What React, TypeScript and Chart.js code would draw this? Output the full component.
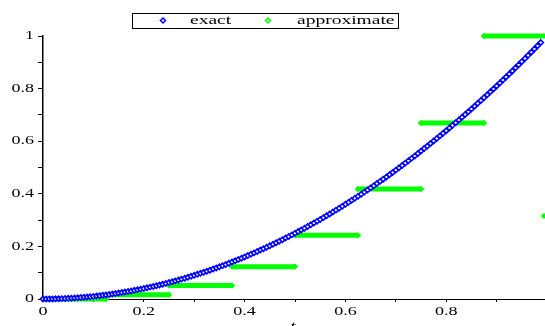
import React, { useEffect, useRef } from "react";
import { Chart, registerables } from "chart.js";

Chart.register(...registerables);

// ---- data ----
const seriesNames = ["exact", "approximate"];

const exactT = [
  0, 0.0063, 0.0125, 0.0188, 0.025, 0.0313, 0.0375, 0.0438, 0.05, 0.0563, 0.0625, 0.0688, 0.075, 0.0813, 0.0875, 0.0938,
  0.1, 0.1063, 0.1125, 0.1188, 0.125, 0.1313, 0.1375, 0.1438, 0.15, 0.1563, 0.1625, 0.1688, 0.175, 0.1813, 0.1875, 0.1938,
  0.2, 0.2063, 0.2125, 0.2188, 0.225, 0.2313, 0.2375, 0.2438, 0.25, 0.2563, 0.2625, 0.2688, 0.275, 0.2813, 0.2875, 0.2938,
  0.3, 0.3063, 0.3125, 0.3188, 0.325, 0.3313, 0.3375, 0.3438, 0.35, 0.3563, 0.3625, 0.3688, 0.375, 0.3813, 0.3875, 0.3938,
  0.4, 0.4063, 0.4125, 0.4188, 0.425, 0.4313, 0.4375, 0.4438, 0.45, 0.4563, 0.4625, 0.4688, 0.475, 0.4813, 0.4875, 0.4938,
  0.5, 0.5063, 0.5125, 0.5188, 0.525, 0.5313, 0.5375, 0.5438, 0.55, 0.5563, 0.5625, 0.5688, 0.575, 0.5813, 0.5875, 0.5938,
  0.6, 0.6063, 0.6125, 0.6188, 0.625, 0.6313, 0.6375, 0.6438, 0.65, 0.6563, 0.6625, 0.6688, 0.675, 0.6813, 0.6875, 0.6938,
  0.7, 0.7063, 0.7125, 0.7188, 0.725, 0.7313, 0.7375, 0.7438, 0.75, 0.7563, 0.7625, 0.7688, 0.775, 0.7813, 0.7875, 0.7938,
  0.8, 0.8063, 0.8125, 0.8188, 0.825, 0.8313, 0.8375, 0.8438, 0.85, 0.8563, 0.8625, 0.8688, 0.875, 0.8813, 0.8875, 0.8938,
  0.9, 0.9063, 0.9125, 0.9188, 0.925, 0.9313, 0.9375, 0.9438, 0.95, 0.9563, 0.9625, 0.9688, 0.975, 0.9813, 0.9875,
];

const exactY = [
  0, 0.0, 0.0002, 0.0004, 0.0006, 0.001, 0.0014, 0.0019, 0.0025, 0.0032, 0.0039, 0.0047, 0.0056, 0.0066, 0.0077, 0.0088,
  0.01, 0.0113, 0.0127, 0.0141, 0.0156, 0.0172, 0.0189, 0.0207, 0.0225, 0.0244, 0.0264, 0.0285, 0.0306, 0.0329, 0.0352, 0.0375,
  0.04, 0.0425, 0.0452, 0.0479, 0.0506, 0.0535, 0.0564, 0.0594, 0.0625, 0.0657, 0.0689, 0.0722, 0.0756, 0.0791, 0.0827, 0.0863,
  0.09, 0.0938, 0.0977, 0.1016, 0.1056, 0.1097, 0.1139, 0.1182, 0.1225, 0.1269, 0.1314, 0.136, 0.1406, 0.1454, 0.1502, 0.155,
  0.16, 0.165, 0.1702, 0.1754, 0.1806, 0.186, 0.1914, 0.1969, 0.2025, 0.2082, 0.2139, 0.2197, 0.2256, 0.2316, 0.2377, 0.2438,
  0.25, 0.2563, 0.2627, 0.2691, 0.2756, 0.2822, 0.2889, 0.2957, 0.3025, 0.3094, 0.3164, 0.3235, 0.3306, 0.3379, 0.3452, 0.3525,
  0.36, 0.3675, 0.3752, 0.3829, 0.3906, 0.3985, 0.4064, 0.4144, 0.4225, 0.4307, 0.4389, 0.4472, 0.4556, 0.4641, 0.4727, 0.4813,
  0.49, 0.4988, 0.5077, 0.5166, 0.5256, 0.5347, 0.5439, 0.5532, 0.5625, 0.5719, 0.5814, 0.591, 0.6006, 0.6104, 0.6202, 0.63,
  0.64, 0.65, 0.6602, 0.6704, 0.6806, 0.691, 0.7014, 0.7119, 0.7225, 0.7332, 0.7439, 0.7547, 0.7656, 0.7766, 0.7877, 0.7988,
  0.81, 0.8213, 0.8327, 0.8441, 0.8556, 0.8672, 0.8789, 0.8907, 0.9025, 0.9144, 0.9264, 0.9385, 0.9506, 0.9629, 0.9752,
];

// step intervals of the approximation and their values
const segmentEdges = [0, 0.125, 0.25, 0.375, 0.5, 0.625, 0.75, 0.875, 1.0];
const approxValues = [0, 0.016, 0.051, 0.123, 0.242, 0.418, 0.669, 1.0];
// isolated approximate point at the right edge
const strayT = [0.994];
const strayY = [0.316];

const tickLabels = ["0", "0.2", "0.4", "0.6", "0.8", "1"];
const axisTitle = "t";

const BLUE = "#0000ff";
const GREEN = "#00ff00";
const TEXT_STRETCH = 1.5;

function labelFor(value: number): string {
  const tenth = Math.round(value * 10);
  if (tenth % 2 !== 0) return "";
  return tickLabels[tenth / 2] ?? "";
}

function diamond(ctx: CanvasRenderingContext2D, x: number, y: number, r: number, color: string) {
  ctx.beginPath();
  ctx.moveTo(x, y - r);
  ctx.lineTo(x + r, y);
  ctx.lineTo(x, y + r);
  ctx.lineTo(x - r, y);
  ctx.closePath();
  ctx.fillStyle = "#ffffff";
  ctx.fill();
  ctx.lineWidth = 1.5;
  ctx.strokeStyle = color;
  ctx.stroke();
}

const maplePlugin = {
  id: "mapleLook",
  beforeDraw(chart: any) {
    const ctx = chart.ctx as any;
    if (!ctx.__stretched) {
      const orig = ctx.fillText;
      ctx.fillText = function (text: string, x: number, y: number, maxWidth?: number) {
        this.save();
        this.translate(x, y);
        this.scale(TEXT_STRETCH, 1);
        if (maxWidth !== undefined && maxWidth !== null) orig.call(this, text, 0, 0, maxWidth / TEXT_STRETCH);
        else orig.call(this, text, 0, 0);
        this.restore();
      };
      ctx.__stretched = true;
    }
  },
  afterDraw(chart: any) {
    const ctx = chart.ctx as CanvasRenderingContext2D;
    ctx.save();
    // legend box
    ctx.strokeStyle = "#000";
    ctx.lineWidth = 1;
    ctx.strokeRect(132.5, 13.5, 266, 15);
    diamond(ctx, 163, 20.5, 2.5, BLUE);
    diamond(ctx, 268, 20.5, 2.5, GREEN);
    ctx.fillStyle = "#000";
    ctx.font = '13px "Liberation Serif"';
    ctx.textAlign = "left";
    ctx.textBaseline = "alphabetic";
    ctx.fillText(seriesNames[0], 190, 24);
    ctx.fillText(seriesNames[1], 297, 24);
    // axis title
    const xs = chart.scales.x;
    ctx.font = 'italic 13px "Liberation Serif"';
    ctx.textAlign = "center";
    ctx.textBaseline = "top";
    ctx.fillText(axisTitle, xs.getPixelForValue(0.5) - 2, 320);
    ctx.restore();
  },
};

export default function App() {
  const ref = useRef<HTMLCanvasElement | null>(null);

  useEffect(() => {
    if (!ref.current) return;

    const exactData = exactT.map((t, i) => ({ x: t, y: exactY[i] }));
    const approxData: { x: number; y: number | null }[] = [];
    approxValues.forEach((v, k) => {
      approxData.push({ x: segmentEdges[k], y: v });
      approxData.push({ x: segmentEdges[k + 1], y: v });
      approxData.push({ x: segmentEdges[k + 1], y: null });
    });
    strayT.forEach((t, i) => approxData.push({ x: t, y: strayY[i] }));

    const font = { family: '"Liberation Serif", "Times New Roman", serif', size: 12 };

    const chart = new Chart(ref.current, {
      type: "scatter",
      data: {
        datasets: [
          {
            label: seriesNames[0],
            data: exactData,
            showLine: false,
            pointStyle: "rectRot",
            pointRadius: 2.6,
            pointBorderWidth: 1.6,
            pointBorderColor: BLUE,
            pointBackgroundColor: "#ffffff",
            clip: false as any,
          },
          {
            label: seriesNames[1],
            data: approxData as any,
            showLine: true,
            spanGaps: false,
            borderColor: GREEN,
            borderWidth: 5,
            borderCapStyle: "butt",
            pointStyle: "rectRot",
            pointRadius: 3.2,
            pointBorderWidth: 0,
            pointBackgroundColor: GREEN,
            pointBorderColor: GREEN,
            clip: false as any,
          },
        ],
      },
      options: {
        responsive: false,
        animation: false,
        layout: { autoPadding: false, padding: { top: 36, left: 0, right: 0, bottom: 0 } },
        plugins: {
          legend: { display: false },
          tooltip: { enabled: false },
        },
        scales: {
          x: {
            type: "linear",
            min: 0,
            max: 0.996,
            afterFit: (s: any) => {
              s.height = 27;
            },
            border: { display: true, color: "#000", width: 1 },
            grid: { display: true, drawOnChartArea: false, drawTicks: true, tickLength: 3, tickColor: "#000" },
            ticks: {
              stepSize: 0.1,
              includeBounds: false,
              autoSkip: false,
              maxRotation: 0,
              padding: 3,
              color: "#000",
              font,
              callback: (v: any) => labelFor(Number(v)),
            },
          },
          y: {
            type: "linear",
            min: 0,
            max: 1,
            afterFit: (s: any) => {
              s.width = 43;
            },
            border: { display: true, color: "#000", width: 1.5 },
            grid: { display: true, drawOnChartArea: false, drawTicks: true, tickLength: 5, tickColor: "#000" },
            ticks: {
              stepSize: 0.1,
              includeBounds: false,
              autoSkip: false,
              padding: 4,
              color: "#000",
              font,
              callback: (v: any) => labelFor(Number(v)),
            },
          },
        },
      },
      plugins: [maplePlugin as any],
    });

    return () => chart.destroy();
  }, []);

  return (
    <div style={{ position: "fixed", left: 0, top: 0, width: 545, height: 326, background: "#fff" }}>
      <canvas ref={ref} width={545} height={326} style={{ display: "block" }} />
    </div>
  );
}
